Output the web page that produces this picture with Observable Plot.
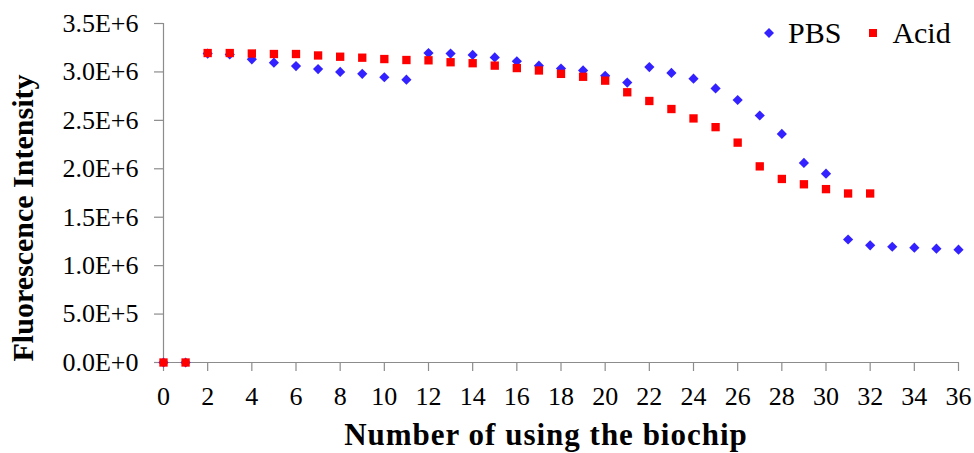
<!DOCTYPE html>
<html>
<head>
<meta charset="utf-8">
<script src="https://cdn.jsdelivr.net/npm/d3@7"></script>
<script src="https://cdn.jsdelivr.net/npm/@observablehq/plot@0.6"></script>
<style>
  html, body { margin: 0; padding: 0; background: #fff; }
  #wrap { position: relative; width: 974px; height: 453px; overflow: hidden; }
  #legend { position: absolute; left: 764px; top: 18px; display: flex; align-items: center;
            font-family: "Liberation Serif", "Times New Roman", serif; font-size: 30px; line-height: 30px; color: #000; }
  #legend svg { display: block; }
  g[font-size="31"] { letter-spacing: 1px; }
</style>
</head>
<body>
<div id="wrap"></div>
<script>
// ---- data ----
const seriesNames = ["PBS", "Acid"];
const seriesColors = ["#3322ff", "#ff0000"];

const pbsUses = [0, 1, 2, 3, 4, 5, 6, 7, 8, 9, 10, 11, 12, 13, 14, 15, 16, 17, 18, 19, 20,
                 21, 22, 23, 24, 25, 26, 27, 28, 29, 30, 31, 32, 33, 34, 35, 36];
const pbsValues = [0, 0, 3190000, 3180000, 3130000, 3095000, 3060000, 3030000, 3000000, 2980000, 2945000,
                   2920000, 3195000, 3190000, 3175000, 3150000, 3110000, 3065000, 3035000, 3015000, 2960000,
                   2890000, 3050000, 2990000, 2930000, 2830000, 2710000, 2550000, 2360000, 2060000, 1950000,
                   1270000, 1210000, 1195000, 1185000, 1175000, 1165000];

const acidUses = [0, 1, 2, 3, 4, 5, 6, 7, 8, 9, 10, 11, 12, 13, 14, 15, 16, 17, 18, 19, 20,
                  21, 22, 23, 24, 25, 26, 27, 28, 29, 30, 31, 32];
const acidValues = [0, 0, 3195000, 3195000, 3190000, 3185000, 3185000, 3170000, 3157000, 3147000, 3133000,
                    3123000, 3120000, 3100000, 3090000, 3065000, 3040000, 3015000, 2980000, 2950000, 2910000,
                    2790000, 2700000, 2617000, 2520000, 2430000, 2270000, 2025000, 1895000, 1840000, 1790000,
                    1745000, 1745000];

const xTicks = [0, 2, 4, 6, 8, 10, 12, 14, 16, 18, 20, 22, 24, 26, 28, 30, 32, 34, 36];
const yTicks = [0, 500000, 1000000, 1500000, 2000000, 2500000, 3000000, 3500000];
const yTickLabels = ["0.0E+0", "5.0E+5", "1.0E+6", "1.5E+6", "2.0E+6", "2.5E+6", "3.0E+6", "3.5E+6"];

const xTitle = "Number of using the biochip";
const yTitle = "Fluorescence Intensity";

// ---- build tables ----
const pbs = pbsUses.map((u, i) => ({uses: u, value: pbsValues[i]}));
const acid = acidUses.map((u, i) => ({uses: u, value: acidValues[i]}));

const serif = "'Liberation Serif', 'Times New Roman', serif";
const axisGray = "#8c8c8c";

const chart = Plot.plot({
  width: 974,
  height: 453,
  marginLeft: 163,
  marginRight: 16,
  marginTop: 23,
  marginBottom: 91,
  style: {fontFamily: serif, fontSize: "26px", color: "#000", background: "#fff", overflow: "visible"},
  x: {domain: [0, 36]},
  y: {domain: [0, 3500000]},
  marks: [
    Plot.ruleX([0], {stroke: axisGray, strokeWidth: 1.2}),
    Plot.ruleY([0], {stroke: axisGray, strokeWidth: 1.2}),
    Plot.axisY(yTicks, {
      tickSize: 9, tickPadding: 16, stroke: axisGray, fill: "#000", strokeWidth: 1.2,
      tickFormat: (d) => yTickLabels[yTicks.indexOf(d)], label: null, fontSize: 26
    }),
    Plot.axisX(xTicks, {
      tickSize: 9, tickPadding: 15, stroke: axisGray, fill: "#000", strokeWidth: 1.2,
      label: null, fontSize: 26
    }),
    Plot.dot(pbs, {x: "uses", y: "value", symbol: "diamond2", r: 4.6, fill: seriesColors[0], stroke: null}),
    Plot.dot(acid, {x: "uses", y: "value", symbol: "square", r: 4.7, fill: seriesColors[1], stroke: null}),
    Plot.text([xTitle], {
      frameAnchor: "bottom", dy: 82, dx: -15, text: (d) => d, textAnchor: "middle",
      fontSize: 31, fontWeight: "bold", fill: "#000"
    }),
    Plot.text([yTitle], {
      frameAnchor: "left", rotate: -90, dx: -140, dy: 25, text: (d) => d,
      textAnchor: "middle", lineAnchor: "middle",
      fontSize: 30, fontWeight: "bold", fill: "#000"
    })
  ]
});

const wrap = document.getElementById("wrap");
wrap.appendChild(chart);

// ---- legend (HTML overlay, top right) ----
const legend = document.createElement("div");
legend.id = "legend";
const diamond = `<svg width="10" height="10" viewBox="-5 -5 10 10"><path d="M0,-5L5,0L0,5L-5,0Z" fill="${seriesColors[0]}"/></svg>`;
const square = `<svg width="8" height="8"><rect width="8" height="8" fill="${seriesColors[1]}"/></svg>`;
legend.innerHTML =
  `${diamond}<span style="margin-left:14px">${seriesNames[0]}</span>` +
  `<span style="margin-left:28px;display:block">${square}</span><span style="margin-left:15px">${seriesNames[1]}</span>`;
wrap.appendChild(legend);
</script>
</body>
</html>
